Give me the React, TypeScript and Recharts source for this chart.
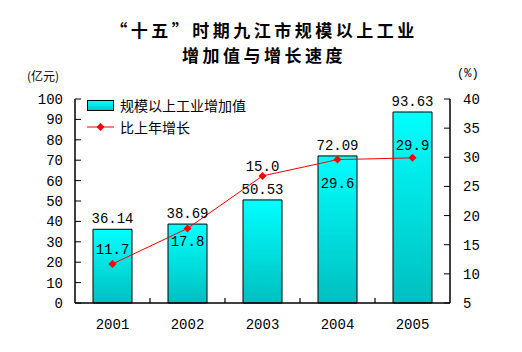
import {
  ComposedChart,
  Bar,
  Line,
  XAxis,
  YAxis,
  LabelList,
} from 'recharts'

const years = ['2001', '2002', '2003', '2004', '2005']
const addedValue = [36.14, 38.69, 50.53, 72.09, 93.63]
// the original plots 2003 at about 26.8 but prints "15.0" next to it
const growth = [11.7, 17.8, 26.8, 29.6, 29.9]
const growthLabels = ['11.7', '17.8', '15.0', '29.6', '29.9']
const leftTicks = [0, 10, 20, 30, 40, 50, 60, 70, 80, 90, 100]
const rightTicks = [5, 10, 15, 20, 25, 30, 35, 40]

const data = years.map((year, i) => ({
  year,
  value: addedValue[i],
  growth: growth[i],
  label: growthLabels[i],
}))

const numFont = '"Liberation Mono", "DejaVu Sans Mono", monospace'
const cjkFont = '"Noto Sans CJK SC", sans-serif'
const labelShift = [-14, 14, -9, 24, -12]
const xTickGap = 16

function Diamond(props: any) {
  const { cx, cy } = props
  if (cx == null || cy == null) return null
  const r = 4
  return (
    <polygon
      points={`${cx},${cy - r} ${cx + r},${cy} ${cx},${cy + r} ${cx - r},${cy}`}
      fill="#ff0000"
    />
  )
}

// year label plus the small inward tick on the boundary after each category
function YearTick(props: any) {
  const { x, y, payload, index, visibleTicksCount, width } = props
  const count = visibleTicksCount || years.length
  const half = payload?.offset || (Number(width) || 375) / count / 2
  const axisY = y - xTickGap
  const last = index === count - 1
  return (
    <g>
      {!last && (
        <line
          x1={x + half}
          x2={x + half}
          y1={axisY}
          y2={axisY - 5}
          stroke="#000"
          strokeWidth={1.2}
        />
      )}
      <text
        x={x}
        y={y}
        textAnchor="middle"
        dominantBaseline="hanging"
        fontFamily={numFont}
        fontSize={14}
        fill="#000"
      >
        {payload.value}
      </text>
    </g>
  )
}

function GrowthLabel(props: any) {
  const { x, y, index, value } = props
  return (
    <text
      x={x}
      y={y + labelShift[index]}
      textAnchor="middle"
      dominantBaseline="central"
      fontFamily={numFont}
      fontSize={14}
      fill="#000"
    >
      {value}
    </text>
  )
}

export default function App() {
  return (
    <div style={{ position: 'absolute', left: 0, top: 0, width: 522, height: 352, background: '#fff' }}>
      <div
        style={{
          position: 'absolute',
          left: 0,
          top: 17,
          width: 528,
          textAlign: 'center',
          fontFamily: cjkFont,
          fontWeight: 'bold',
          fontSize: 17,
          lineHeight: '25px',
          letterSpacing: 3.5,
          color: '#000',
        }}
      >
        <div>“十五”时期九江市规模以上工业</div>
        <div>增加值与增长速度</div>
      </div>
      <div style={{ position: 'absolute', left: 27, top: 67, fontFamily: cjkFont, fontSize: 12, color: '#000' }}>
        (亿元)
      </div>
      <div style={{ position: 'absolute', left: 457, top: 67, fontFamily: numFont, fontSize: 12, color: '#000' }}>
        (%)
      </div>

      <div style={{ position: 'absolute', left: 87, top: 95, fontFamily: cjkFont, fontSize: 14, color: '#000' }}>
        <div style={{ display: 'flex', alignItems: 'center', height: 20 }}>
          <span
            style={{
              display: 'inline-block',
              width: 25,
              height: 9,
              border: '1px solid #000',
              background: 'linear-gradient(#00ffff, #00c8c8)',
              marginRight: 6,
            }}
          />
          规模以上工业增加值
        </div>
        <div style={{ display: 'flex', alignItems: 'center', height: 20, marginTop: 2 }}>
          <svg width={27} height={10} style={{ marginRight: 6 }}>
            <line x1={0} y1={5} x2={27} y2={5} stroke="#ff0000" strokeWidth={1} />
            <polygon points="13.5,1 17.5,5 13.5,9 9.5,5" fill="#ff0000" />
          </svg>
          比上年增长
        </div>
      </div>

      <ComposedChart
        width={522}
        height={352}
        data={data}
        margin={{ top: 99, right: 27, bottom: 19, left: 30 }}
      >
        <defs>
          <linearGradient id="barFill" x1="0" y1="0" x2="0" y2="1">
            <stop offset="0%" stopColor="#00ffff" />
            <stop offset="100%" stopColor="#00bfbf" />
          </linearGradient>
        </defs>
        <XAxis
          dataKey="year"
          height={30}
          axisLine={{ stroke: '#000', strokeWidth: 1.5 }}
          tickLine={false}
          tickSize={0}
          tickMargin={xTickGap}
          tick={<YearTick />}
        />
        <YAxis
          yAxisId="left"
          domain={[0, 100]}
          ticks={leftTicks}
          width={45}
          interval={0}
          axisLine={{ stroke: '#000', strokeWidth: 1.5 }}
          tickSize={-6}
          tickMargin={18}
          tickLine={{ stroke: '#000' }}
          tick={{ fill: '#000', fontSize: 14, fontFamily: numFont }}
        />
        <YAxis
          yAxisId="right"
          orientation="right"
          domain={[5, 40]}
          ticks={rightTicks}
          width={45}
          interval={0}
          axisLine={{ stroke: '#000', strokeWidth: 1.5 }}
          tickSize={-6}
          tickMargin={19}
          tickLine={{ stroke: '#000' }}
          tick={{ fill: '#000', fontSize: 14, fontFamily: numFont, textAnchor: 'start' }}
        />
        <Bar
          yAxisId="left"
          dataKey="value"
          barSize={39}
          fill="url(#barFill)"
          stroke="#000"
          strokeWidth={1}
          isAnimationActive={false}
        >
          <LabelList
            dataKey="value"
            position="top"
            offset={6}
            formatter={(v: any) => Number(v).toFixed(2)}
            style={{ fill: '#000', fontSize: 14, fontFamily: numFont }}
          />
        </Bar>
        <Line
          yAxisId="right"
          dataKey="growth"
          stroke="#ff0000"
          strokeWidth={1}
          dot={<Diamond />}
          activeDot={false}
          isAnimationActive={false}
        >
          <LabelList dataKey="label" content={<GrowthLabel />} />
        </Line>
      </ComposedChart>
    </div>
  )
}
